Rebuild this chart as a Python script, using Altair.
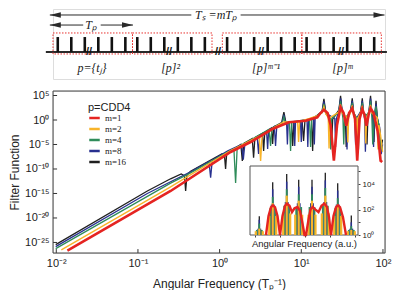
import altair as alt
import numpy as np
import pandas as pd

SERIES = ["m=1", "m=2", "m=4", "m=8", "m=16"]
COLORS = ["#e52421", "#f8b42a", "#2f8c5a", "#28308f", "#1f1f1f"]

# ---------------- main panel: log10(angular frequency), log10(filter function) ----------------
m1_logw = [-1.864, -0.600, 0.135, 0.379, 0.645, 0.848, 1.053, 1.196, 1.236, 1.277, 1.322, 1.359, 1.399,
           1.438, 1.481, 1.518, 1.551, 1.585, 1.624, 1.658, 1.685, 1.714, 1.747, 1.775, 1.799, 1.824,
           1.848, 1.885, 1.934, 1.971, 1.991]
m1_logF = [-26.67, -14.49, -6.53, -4.49, -1.84, -0.47, -0.14, 0.55, 1.43, 2.10, 1.43, -1.02, -8.31,
           -1.02, 2.59, 1.43, -1.16, 1.43, 2.39, 0.20, -8.31, 0.20, 2.24, 1.02, -1.16, 1.02,
           2.39, 1.43, -2.24, -8.31, -8.57]

m2_logw = [-1.938, -0.600, 0.135, 0.400, 0.485, 0.502, 0.520, 0.600, 0.700, 0.787, 0.860, 0.955, 0.967,
           0.980, 1.100, 1.200, 1.255, 1.277, 1.300, 1.330, 1.340, 1.350, 1.460, 1.481, 1.500, 1.560,
           1.570, 1.580, 1.605, 1.624, 1.640, 1.670, 1.680, 1.690, 1.730, 1.747, 1.760, 1.780, 1.790,
           1.800, 1.830, 1.848, 1.865, 1.930, 1.940, 1.950, 1.970, 1.995]
m2_logF = [-26.53, -13.64, -6.23, -4.00, -3.30, -8.37, -3.10, -2.20, -1.20, -0.40, -0.40, -0.40, -4.50,
           -0.30, 0.30, 0.90, 1.50, 2.70, 1.30, 0.50, -5.80, 0.50, 1.60, 3.20, 1.40, 0.50,
           -4.60, 0.60, 1.60, 3.00, 1.30, 0.30, -7.00, 0.30, 1.60, 2.90, 1.30, 0.50, -4.80,
           0.50, 1.60, 3.10, 1.40, 0.50, -6.00, -1.00, -3.00, -6.50]

m4_logw = [-2.007, -0.600, -0.355, 0.135, 0.175, 0.196, 0.215, 0.400, 0.605, 0.624, 0.640, 0.765, 0.787,
           0.805, 0.855, 0.869, 0.883, 1.000, 1.100, 1.114, 1.128, 1.255, 1.277, 1.300, 1.350, 1.360,
           1.370, 1.460, 1.481, 1.500, 1.510, 1.520, 1.530, 1.605, 1.624, 1.640, 1.690, 1.700, 1.710,
           1.730, 1.747, 1.760, 1.800, 1.830, 1.848, 1.862, 1.875, 1.895, 1.915, 1.930, 1.950, 1.975, 1.995]
m4_logF = [-26.27, -12.90, -10.80, -6.18, -5.90, -12.86, -5.60, -3.90, -1.90, -5.31, -1.60, -0.70, 0.60,
           -0.60, -0.60, -6.30, -0.40, -0.10, 0.10, -5.50, 0.30, 1.50, 3.30, 1.30, 0.20, -6.00,
           0.20, 1.70, 3.90, 1.50, 0.30, -5.00, 0.30, 1.70, 3.50, 1.40, 0.20, -6.00, 0.20,
           1.70, 3.50, 1.40, 1.00, 1.70, 3.90, 1.50, -5.00, 1.00, 2.80, 0.50, -1.00, -6.00, -5.50]

m8_logw = [-2.007, -0.885, -0.600, -0.355, -0.130, -0.110, -0.090, 0.100, 0.270, 0.290, 0.310, 0.460,
           0.477, 0.490, 0.575, 0.588, 0.600, 0.670, 0.685, 0.700, 0.765, 0.787, 0.805, 0.820, 0.830,
           0.840, 0.910, 0.920, 0.930, 0.990, 1.000, 1.010, 1.070, 1.080, 1.090, 1.150, 1.160, 1.170,
           1.255, 1.277, 1.300, 1.410, 1.420, 1.430, 1.460, 1.481, 1.500, 1.550, 1.560, 1.570, 1.605,
           1.624, 1.640, 1.655, 1.665, 1.675, 1.730, 1.747, 1.760, 1.775, 1.785, 1.795, 1.830, 1.848,
           1.862, 1.875, 1.885, 1.895, 1.915, 1.930, 1.960, 1.980, 1.995]
m8_logF = [-25.86, -15.00, -12.60, -10.60, -8.50, -11.78, -8.20, -6.30, -5.00, -8.10, -4.80, -3.50,
           -6.94, -3.30, -2.30, -5.92, -2.10, -1.30, -5.30, -1.20, -0.60, 1.10, -0.50, -0.50, -5.00,
           -0.50, -0.30, -5.30, -0.30, -0.20, -4.50, -0.10, 0.10, -5.50, 0.10, 0.50, -5.00, 0.60,
           1.60, 3.80, 1.40, 0.30, -5.50, 0.30, 1.80, 4.40, 1.60, 0.30, -6.00, 0.30, 1.80,
           3.90, 1.50, 0.30, -5.00, 0.30, 1.80, 3.90, 1.50, 0.30, -6.50, 0.30, 1.80, 4.40,
           1.60, 0.30, -5.50, 0.50, 3.30, 0.30, -1.50, -7.00, -5.00]

m16_logw = [-2.007, -0.885, -0.600, -0.470, -0.430, -0.416, -0.400, -0.355, 0.030, 0.060, 0.073, 0.086,
            0.260, 0.278, 0.296, 0.400, 0.416, 0.432, 0.525, 0.539, 0.553, 0.635, 0.649, 0.663, 0.760,
            0.787, 0.810, 0.880, 0.895, 0.910, 1.010, 1.028, 1.045, 1.125, 1.139, 1.153, 1.255, 1.277,
            1.300, 1.355, 1.370, 1.385, 1.460, 1.481, 1.500, 1.540, 1.550, 1.560, 1.605, 1.624, 1.640,
            1.685, 1.695, 1.705, 1.730, 1.747, 1.760, 1.795, 1.805, 1.815, 1.830, 1.848, 1.862, 1.880,
            1.890, 1.900, 1.915, 1.930, 1.960, 1.975, 1.995]
m16_logF = [-25.45, -14.49, -12.00, -11.00, -11.40, -14.49, -11.20, -10.45, -6.90, -7.30, -10.00, -7.00,
            -5.00, -8.37, -4.80, -3.80, -7.69, -3.60, -2.70, -6.33, -2.50, -1.60, -4.90, -1.40, -0.50,
            1.63, -0.40, -0.50, -5.30, -0.40, -0.20, -4.30, -0.10, 0.30, -6.33, 0.40, 1.80, 4.30,
            1.60, 0.40, -5.00, 0.20, 2.00, 4.96, 1.80, 0.30, -5.50, 0.30, 2.00, 4.43, 1.60,
            0.00, -6.00, 0.00, 2.00, 4.43, 1.60, 0.20, -5.00, 0.30, 2.00, 4.96, 1.80, 0.30,
            -4.50, 0.50, 3.94, 0.50, -2.00, -6.00, -4.00]

X_TICK_EXP = [-2, -1, 0, 1, 2]
Y_TICK_EXP = [5, 0, -5, -10, -15, -20, -25]
X_DOM = [10 ** -2.04, 10 ** 2.025]
Y_DOM = [10 ** -27.15, 10 ** 5.92]

# ---------------- inset (arbitrary units, log10 filter function) ----------------
inset_peak_a = [0.93, 2.27, 3.67, 4.87, 6.20, 7.53, 8.77, 10.13]
inset_black_h = [1.48, 4.16, 4.81, 4.35, 4.35, 4.89, 4.08, 1.53]
inset_blue_h = [1.20, 3.60, 4.20, 3.80, 3.80, 4.30, 3.50, 1.00]
inset_green_h = [0.90, 3.00, 3.60, 3.20, 3.20, 3.70, 2.90, 0.70]
inset_yellow_h = [0.50, 2.50, 3.10, 2.70, 2.70, 3.10, 2.40, 0.40]
inset_blue_side_a = [0.81, 1.05, 2.15, 2.39, 3.55, 3.79, 4.75, 4.99, 6.08, 6.32, 7.41, 7.65, 8.65, 8.89, 10.01, 10.25]
inset_blue_side_h = [0.5, 0.5, 2.4, 2.4, 2.6, 2.6, 2.5, 2.5, 2.5, 2.5, 2.6, 2.6, 2.4, 2.4, 0.5, 0.5]
inset_green_side_a = [0.68, 1.18, 2.02, 2.52, 3.42, 3.92, 4.62, 5.12, 5.95, 6.45, 7.28, 7.78, 8.52, 9.02, 9.88, 10.38]
inset_green_side_h = [0.4, 0.4, 2.1, 2.1, 2.3, 2.3, 2.2, 2.2, 2.2, 2.2, 2.3, 2.3, 2.1, 2.1, 0.4, 0.4]
inset_yellow_side_a = [0.58, 1.28, 1.92, 2.62, 3.32, 4.02, 4.52, 5.22, 5.85, 6.55, 7.18, 7.88, 8.42, 9.12, 9.78, 10.48]
inset_yellow_side_h = [0.3, 0.3, 1.5, 1.5, 1.7, 1.7, 1.6, 1.6, 1.6, 1.6, 1.7, 1.7, 1.5, 1.5, 0.3, 0.3]
inset_red_a = [1.60, 1.85, 2.10, 2.30, 2.50, 2.75, 3.00, 3.25, 3.50, 3.70, 3.95, 4.20, 4.45, 4.75, 5.00,
               5.25, 5.45, 5.60, 5.85, 6.05, 6.27, 6.55, 6.85, 7.15, 7.43, 7.70, 7.90, 8.10, 8.35, 8.60,
               8.80, 9.00, 9.30, 9.60]
inset_red_h = [0.0, 1.5, 2.2, 2.34, 2.2, 1.5, 0.0, 1.5, 2.3, 2.47, 2.3, 1.8, 2.1, 2.2, 1.9,
               0.9, 0.0, 0.0, 1.2, 2.0, 2.2, 2.0, 1.8, 2.3, 2.47, 2.2, 1.4, 0.0, 1.5, 2.2,
               2.34, 2.2, 1.4, 0.0]
INSET_A_DOM = [0, 10.8]
INSET_LOG_TOP = 5.43

# ---------------- schematic (time in units of T_p) ----------------
pulse_t = [0.06, 0.23, 0.40, 0.57, 0.74, 0.91,
           1.06, 1.23, 1.40, 1.57, 1.74, 1.91,
           2.19, 2.36, 2.53, 2.70, 2.87, 3.04,
           3.19, 3.36, 3.53, 3.70, 3.87, 4.04]
box_start = [0.0, 1.0, 2.13, 3.13]
box_end = [1.0, 2.0, 3.13, 4.13]
break_t = [0.453, 1.459, 2.075, 2.616, 3.623]
block_labels = ["p={tⱼ}", "[p]²", "[p]ᵐ⁻¹", "[p]ᵐ"]
block_label_t = [0.49, 1.48, 2.68, 3.64]

SUP = str.maketrans("0123456789-", "⁰¹²³⁴⁵⁶⁷⁸⁹⁻")


def pow_label_expr(exps):
    parts = [f"abs(log(datum.value)/LN10-({e}))<0.01?'10{str(e).translate(SUP)}':" for e in exps]
    return "".join(parts) + "''"


FONT = "Liberation Sans"

# ================= main panel =================
def series_df(lw, lF, name):
    return pd.DataFrame({"w": 10.0 ** np.array(lw), "F": 10.0 ** np.array(lF),
                         "series": name, "i": np.arange(len(lw))})


MX = alt.X("w:Q", scale=alt.Scale(type="log", domain=X_DOM, nice=False),
           axis=alt.Axis(values=[10.0 ** e for e in X_TICK_EXP], labelExpr=pow_label_expr(X_TICK_EXP),
                         ticks=False, domain=False, grid=False, labelPadding=4, labelFontSize=11,
                         labelFont=FONT, labelColor="#222", title="Angular Frequency (Tₚ⁻¹)",
                         titleFont=FONT, titleFontSize=12, titleFontWeight="normal", titleColor="#222",
                         titlePadding=10))
MY = alt.Y("F:Q", scale=alt.Scale(type="log", domain=Y_DOM, nice=False),
           axis=alt.Axis(values=[10.0 ** e for e in Y_TICK_EXP], labelExpr=pow_label_expr(Y_TICK_EXP),
                         ticks=False, domain=False, grid=False, labelPadding=4, labelFontSize=11,
                         labelFont=FONT, labelColor="#222", title="Filter Function",
                         titleFont=FONT, titleFontSize=12, titleFontWeight="normal", titleColor="#222",
                         titlePadding=3))
COLOR = alt.Color("series:N", scale=alt.Scale(domain=SERIES, range=COLORS),
                  legend=alt.Legend(orient="none", legendX=35, legendY=93, title="p=CDD4",
                                    titleFont=FONT, titleFontSize=11, titleFontWeight="normal",
                                    titleColor="#222", titlePadding=0, labelFont="Liberation Serif",
                                    labelFontSize=9, labelColor="#222", symbolType="stroke",
                                    symbolStrokeWidth=2.5, symbolSize=110, rowPadding=1, clipHeight=10,
                                    padding=0, labelOffset=4))

layers = []
# inward ticks
xt = pd.DataFrame({"w": [10.0 ** e for e in X_TICK_EXP], "F": Y_DOM[0], "F2": Y_DOM[0] * 10 ** 0.8})
yt = pd.DataFrame({"F": [10.0 ** e for e in Y_TICK_EXP], "w": X_DOM[0], "w2": X_DOM[0] * 10 ** 0.05})
layers.append(alt.Chart(xt).mark_rule(color="#333", strokeWidth=1).encode(x=MX, y=MY, y2="F2"))
layers.append(alt.Chart(yt).mark_rule(color="#333", strokeWidth=1).encode(x=MX, x2="w2", y=MY))

for lw, lF, name, sw in [(m16_logw, m16_logF, "m=16", 1.3), (m8_logw, m8_logF, "m=8", 1.3),
                         (m4_logw, m4_logF, "m=4", 1.3), (m2_logw, m2_logF, "m=2", 1.4),
                         (m1_logw, m1_logF, "m=1", 2.6)]:
    layers.append(alt.Chart(series_df(lw, lF, name)).mark_line(strokeWidth=sw, clip=True).encode(
        x=MX, y=MY, color=COLOR, order="i:Q"))

frame = pd.DataFrame({"w": [X_DOM[0]], "w2": [X_DOM[1]], "F": [Y_DOM[0]], "F2": [Y_DOM[1]]})
layers.append(alt.Chart(frame).mark_rect(filled=False, stroke="#444", strokeWidth=1).encode(
    x=MX, x2="w2", y=MY, y2="F2"))
main = alt.layer(*layers)

# ================= inset =================
IX = alt.X("a:Q", scale=alt.Scale(domain=INSET_A_DOM, range=[197, 305], nice=False, zero=False),
           axis=alt.Axis(orient="bottom", offset=-18, labels=False, values=[0.5, 3.0, 5.5, 8.0, 10.5],
                         tickSize=2, tickColor="#444", domain=False, grid=False,
                         title="Angular Frequency (a.u.)", titleFont=FONT, titleFontSize=9.5,
                         titleFontWeight="normal", titleColor="#222", titlePadding=1))
IY = alt.Y("lo:Q", scale=alt.Scale(type="log", domain=[1, 10 ** INSET_LOG_TOP], range=[144, 75], nice=False),
           axis=alt.Axis(orient="right", offset=-27, values=[1, 10, 100, 1000, 1e4, 1e5],
                         labelExpr=pow_label_expr([0, 2, 4]), tickSize=2, tickColor="#444",
                         domain=False, grid=False, labelFont=FONT, labelFontSize=8, labelColor="#222",
                         labelPadding=2, title=None))

ilayers = []
irect = pd.DataFrame({"a": [INSET_A_DOM[0]], "a2": [INSET_A_DOM[1]], "lo": [1.0], "hi": [10 ** INSET_LOG_TOP]})
ilayers.append(alt.Chart(irect).mark_rect(fill="white", stroke="#555", strokeWidth=1).encode(
    x=IX, x2="a2", y=IY, y2="hi"))


def stripes(a, h):
    return pd.DataFrame({"a": a, "lo": 1.0, "hi": 10.0 ** np.array(h)})


for a, h, col, sw in [
    (inset_peak_a, inset_black_h, COLORS[4], 1.3),
    (inset_blue_side_a + inset_peak_a, inset_blue_side_h + inset_blue_h, COLORS[3], 1.5),
    (inset_green_side_a + inset_peak_a, inset_green_side_h + inset_green_h, COLORS[2], 1.8),
    (inset_yellow_side_a + inset_peak_a, inset_yellow_side_h + inset_yellow_h, COLORS[1], 2.2),
]:
    ilayers.append(alt.Chart(stripes(a, h)).mark_rule(color=col, strokeWidth=sw).encode(
        x=IX, y=IY, y2="hi"))

ired = pd.DataFrame({"a": inset_red_a, "lo": 10.0 ** np.array(inset_red_h), "i": np.arange(len(inset_red_a))})
ilayers.append(alt.Chart(ired).mark_line(color=COLORS[0], strokeWidth=2.4).encode(x=IX, y=IY, order="i:Q"))
inset = alt.layer(*ilayers)

lower = alt.layer(main, inset).resolve_scale(x="independent", y="independent").properties(
    width=332, height=162)

# ================= schematic =================
SX = alt.X("t:Q", scale=alt.Scale(domain=[0, 4.176], nice=False, zero=False), axis=None)
SY = alt.Y("y:Q", scale=alt.Scale(domain=[-1.8, 2.87], nice=False, zero=False), axis=None)
INK = "#2a2a2a"

s_layers = []
s_layers.append(alt.Chart(pd.DataFrame({"t": [-0.09], "t2": [4.20], "y": [0.0]})).mark_rule(
    color=INK, strokeWidth=2).encode(x=SX, x2="t2", y=SY))
s_layers.append(alt.Chart(pd.DataFrame({"t": pulse_t, "y": 0.0, "y2": 1.0})).mark_rule(
    color="#111", strokeWidth=2.6).encode(x=SX, y=SY, y2="y2"))
s_layers.append(alt.Chart(pd.DataFrame({"t": box_start, "t2": box_end, "y": -0.13, "y2": 1.27})).mark_rect(
    filled=False, stroke="#e8312f", strokeWidth=1, strokeDash=[1.5, 1.5]).encode(x=SX, x2="t2", y=SY, y2="y2"))
s_layers.append(alt.Chart(pd.DataFrame({"t": break_t, "y": 0.0})).mark_text(
    text="//", font=FONT, fontSize=11, fontWeight="bold", color="#111").encode(x=SX, y=SY))
# arrows
arrows = pd.DataFrame({"t": [-0.04, 2.36, -0.04, 0.60], "t2": [1.74, 4.17, 0.38, 1.006],
                       "y": [2.47, 2.47, 1.8, 1.8]})
s_layers.append(alt.Chart(arrows).mark_rule(color=INK, strokeWidth=1).encode(x=SX, x2="t2", y=SY))
HEAD_L = "M0,0L2.2,-0.55L2.2,0.55Z"
HEAD_R = "M0,0L-2.2,-0.55L-2.2,0.55Z"
heads = pd.DataFrame({"t": [-0.04, 4.17, -0.04, 1.006], "y": [2.47, 2.47, 1.8, 1.8],
                      "dir": ["L", "R", "L", "R"]})
s_layers.append(alt.Chart(heads).mark_point(filled=True, size=100, color=INK, opacity=1, strokeWidth=0).encode(
    x=SX, y=SY, shape=alt.Shape("dir:N", scale=alt.Scale(domain=["L", "R"], range=[HEAD_L, HEAD_R]),
                                legend=None)))
arrow_labels = pd.DataFrame({"t": [2.05, 0.48], "y": [2.47, 1.8], "txt": ["Tₛ =mTₚ", "Tₚ"]})
s_layers.append(alt.Chart(arrow_labels).mark_text(font="Liberation Serif", fontStyle="italic", fontSize=12,
                                                  color="#222").encode(x=SX, y=SY, text="txt:N"))
blk = pd.DataFrame({"t": block_label_t, "y": -1.07, "txt": block_labels})
s_layers.append(alt.Chart(blk).mark_text(font="Liberation Serif", fontStyle="italic", fontSize=12,
                                         color="#222").encode(x=SX, y=SY, text="txt:N"))
schem = alt.layer(*s_layers).properties(width=332, height=70)

chart = alt.vconcat(schem, lower, spacing=12, bounds="flush").properties(padding=0).configure_view(
    strokeWidth=0).configure(font=FONT)

chart.save("out.html", embed_options={"renderer": "svg", "actions": False})
